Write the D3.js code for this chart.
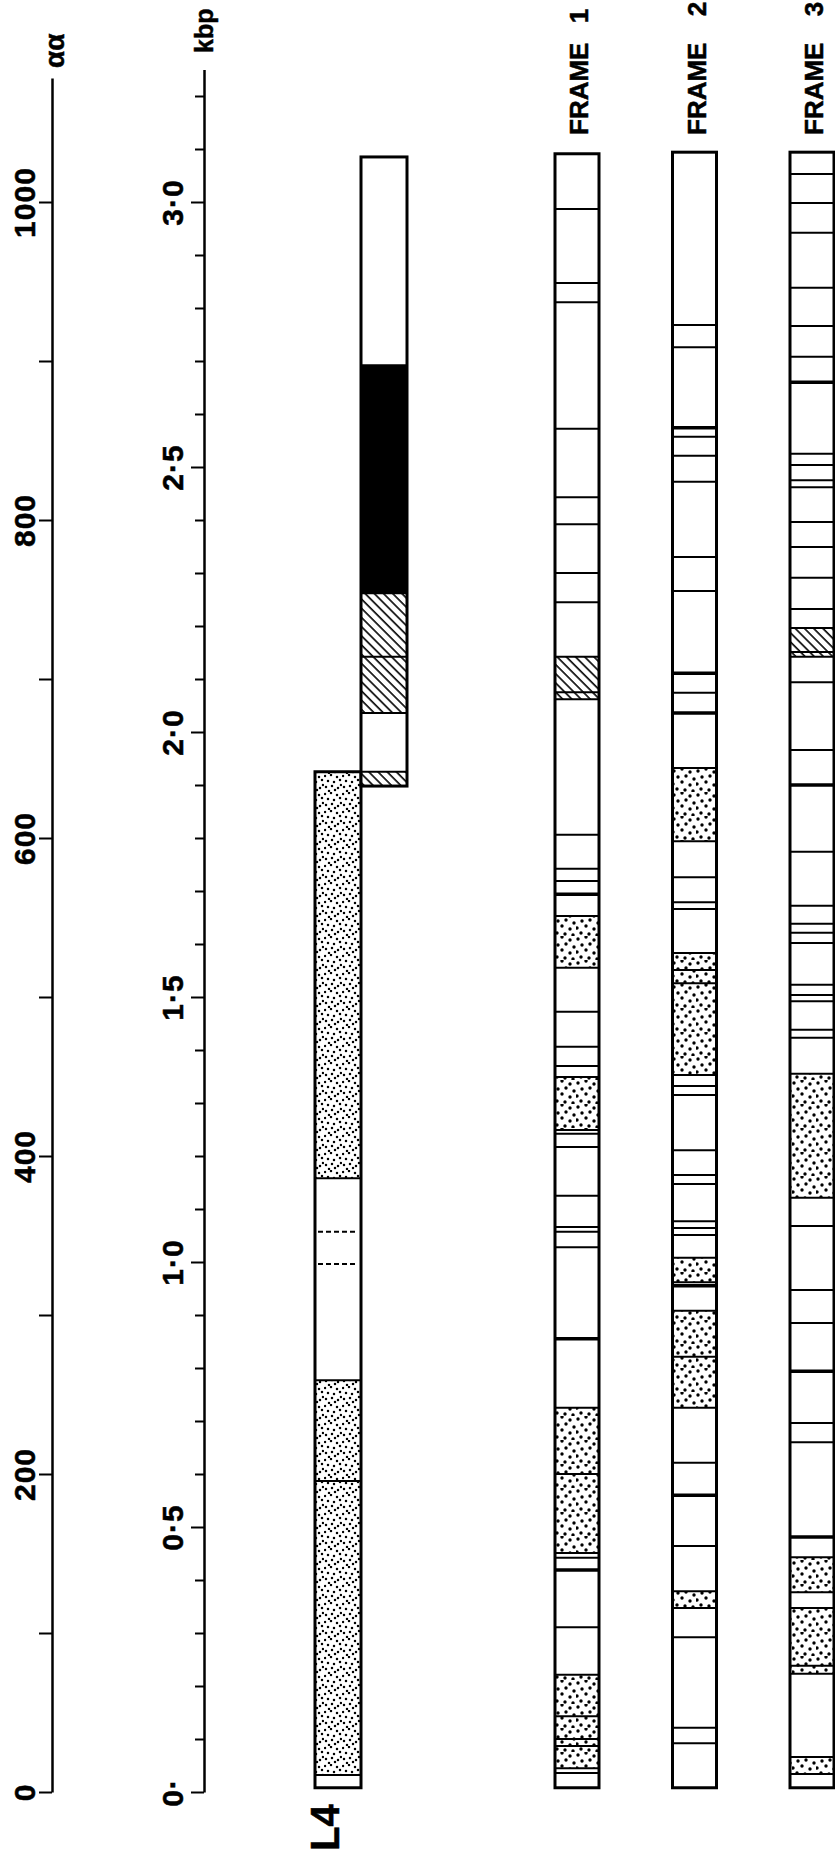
<!DOCTYPE html>
<html>
<head>
<meta charset="utf-8">
<script src="https://cdn.jsdelivr.net/npm/d3@7/dist/d3.min.js"></script>
<style>
  body { margin: 0; background: #fff; }
  text { font-family: "Liberation Sans", Arial, sans-serif; font-weight: bold; fill: #000; stroke: #000; stroke-width: 0.5px; }
</style>
</head>
<body>
<svg width="835" height="1855"></svg>
<script>
// ---- data (positions along the sequence, kbp) ----
const kbpLabelValues = [0, 0.5, 1.0, 1.5, 2.0, 2.5, 3.0];
const kbpLabels = ["0·", "0·5", "1·0", "1·5", "2·0", "2·5", "3·0"];
const aaLabelValues = [0, 200, 400, 600, 800, 1000];
const aaLabels = ["0", "200", "400", "600", "800", "1000"];
const kbpMax = 3.25;
const aaMax = 1078;

// L4 clone: lower block and upper block (staircase)
const l4Lower = [0.008, 1.925];
const l4Upper = [1.898, 3.085];
const l4Lines = [0.032, 0.587, 0.777, 1.158, 1.925, 2.036, 2.142, 2.262, 2.692];
const l4Dashed = [0.996, 1.057];
const l4Dots = [[0.032, 0.587], [0.587, 0.777], [1.158, 1.925]];
const l4Hatch = [[1.898, 1.925], [2.036, 2.142], [2.142, 2.262]];
const l4Solid = [[2.262, 2.692]];

// reading frames
const frameNames = ["1", "2", "3"];
const frameStart = 0.008;
const frameEnds = [3.091, 3.094, 3.094];

const f1Lines = [2.987, 2.847, 2.811, 2.572, 2.443, 2.392, 2.300, 2.245, 2.142, 2.075, 2.062, 1.806, 1.742, 1.719,
  1.653, 1.555, 1.472, 1.406, 1.370, 1.349, 1.249, 1.242, 1.217, 1.125, 1.066, 1.057, 1.028, 0.725, 0.600, 0.451,
  0.442, 0.311, 0.221, 0.143, 0.100, 0.087, 0.045, 0.036];
const f1Heavy = [1.694, 0.855, 0.419];
const f1Dots = [[1.555, 1.653], [1.249, 1.349], [0.600, 0.725], [0.451, 0.600], [0.143, 0.221], [0.100, 0.143],
  [0.087, 0.100], [0.045, 0.087]];
const f1Hatch = [[2.075, 2.142], [2.062, 2.075]];

const f2Lines = [2.768, 2.726, 2.557, 2.521, 2.472, 2.330, 2.266, 2.074, 1.932, 1.794, 1.726, 1.679, 1.666, 1.583,
  1.551, 1.526, 1.353, 1.332, 1.315, 1.211, 1.164, 1.147, 1.077, 1.064, 1.051, 1.008, 0.962, 0.908, 0.821, 0.725,
  0.621, 0.464, 0.379, 0.347, 0.292, 0.121, 0.092];
const f2Heavy = [2.574, 2.111, 2.036, 0.955, 0.560];
const f2Dots = [[1.794, 1.932], [1.551, 1.583], [1.526, 1.551], [1.353, 1.526], [0.962, 1.008], [0.821, 0.908],
  [0.725, 0.821], [0.347, 0.379]];
const f2Hatch = [];

const f3Lines = [3.053, 2.998, 2.942, 2.838, 2.766, 2.708, 2.525, 2.504, 2.475, 2.462, 2.396, 2.349, 2.291, 2.232,
  2.196, 2.151, 2.142, 2.094, 1.966, 1.774, 1.672, 1.638, 1.621, 1.602, 1.523, 1.504, 1.492, 1.438, 1.423, 1.355,
  1.121, 1.068, 0.947, 0.885, 0.696, 0.660, 0.443, 0.377, 0.347, 0.238, 0.223, 0.066, 0.034];
const f3Heavy = [2.660, 1.900, 0.794, 0.481];
const f3Dots = [[1.121, 1.355], [0.377, 0.443], [0.238, 0.347], [0.223, 0.238], [0.034, 0.066]];
const f3Hatch = [[2.151, 2.196], [2.142, 2.151]];

const frameLines = [f1Lines, f2Lines, f3Lines];
const frameHeavy = [f1Heavy, f2Heavy, f3Heavy];
const frameDots = [f1Dots, f2Dots, f3Dots];
const frameHatch = [f1Hatch, f2Hatch, f3Hatch];

// ---- drawing ----
const svg = d3.select("svg");
const defs = svg.append("defs");

const y = d3.scaleLinear().domain([0, kbpMax]).range([1792, 1792 - 530 * kbpMax]);

// textures
function addDots(id, size, pts, r) {
  const p = defs.append("pattern")
    .attr("id", id)
    .attr("patternUnits", "userSpaceOnUse")
    .attr("width", size)
    .attr("height", size);
  p.append("rect").attr("width", size).attr("height", size).attr("fill", "#fff");
  pts.forEach(([cx, cy]) => p.append("circle").attr("cx", cx).attr("cy", cy).attr("r", r).attr("fill", "#000"));
}
addDots("dotsFine", 18, [[1, 2], [7, 1], [13, 3], [4, 7], [10, 8], [16, 6], [2, 13], [8, 12], [14, 14], [5, 17], [11, 16], [17, 11]], 1.25);
addDots("dots", 24, [[2, 3], [10, 1], [18, 4], [6, 9], [14, 8], [22, 11], [1, 16], [10, 14], [18, 17], [5, 21], [13, 22], [21, 23]], 1.7);

const hatch = defs.append("pattern")
  .attr("id", "hatch")
  .attr("patternUnits", "userSpaceOnUse")
  .attr("width", 6.5)
  .attr("height", 6.5)
  .attr("patternTransform", "rotate(-45)");
hatch.append("rect").attr("width", 6.5).attr("height", 6.5).attr("fill", "#fff");
hatch.append("line").attr("x1", 1).attr("y1", 0).attr("x2", 1).attr("y2", 6.5)
  .attr("stroke", "#000").attr("stroke-width", 1.6);

function drawColumn(x0, w, range, opts) {
  const g = svg.append("g");
  g.append("rect")
    .attr("x", x0).attr("y", y(range[1]))
    .attr("width", w).attr("height", y(range[0]) - y(range[1]))
    .attr("fill", "#fff");

  const fills = [
    [opts.dots || [], `url(#${opts.dotId || "dots"})`],
    [opts.hatch || [], "url(#hatch)"],
    [opts.solid || [], "#000"]
  ];
  fills.forEach(([segs, fill]) => {
    g.selectAll(null)
      .data(segs)
      .enter()
      .append("rect")
      .attr("x", x0)
      .attr("y", d => y(d[1]))
      .attr("width", w)
      .attr("height", d => y(d[0]) - y(d[1]))
      .attr("fill", fill);
  });

  g.selectAll(null)
    .data(opts.lines || [])
    .enter()
    .append("line")
    .attr("x1", x0).attr("x2", x0 + w)
    .attr("y1", d => y(d)).attr("y2", d => y(d))
    .attr("stroke", "#000").attr("stroke-width", 2);

  g.selectAll(null)
    .data(opts.heavy || [])
    .enter()
    .append("line")
    .attr("x1", x0).attr("x2", x0 + w)
    .attr("y1", d => y(d)).attr("y2", d => y(d))
    .attr("stroke", "#000").attr("stroke-width", 3.5);

  g.selectAll(null)
    .data(opts.dashed || [])
    .enter()
    .append("line")
    .attr("x1", x0 + 3).attr("x2", x0 + w - 3)
    .attr("y1", d => y(d)).attr("y2", d => y(d))
    .attr("stroke", "#000").attr("stroke-width", 2)
    .attr("stroke-dasharray", "5,3");

  g.append("rect")
    .attr("x", x0).attr("y", y(range[1]))
    .attr("width", w).attr("height", y(range[0]) - y(range[1]))
    .attr("fill", "none")
    .attr("stroke", "#000")
    .attr("stroke-width", 3);
}

// L4 staircase
const inRange = (segs, r) => segs.filter(d => d[0] >= r[0] - 1e-6 && d[1] <= r[1] + 1e-6);
const inRangeV = (vals, r) => vals.filter(v => v > r[0] && v < r[1]);
drawColumn(315, 46, l4Lower, {
  dots: inRange(l4Dots, l4Lower), dotId: "dotsFine",
  lines: inRangeV(l4Lines, l4Lower), dashed: l4Dashed
});
drawColumn(361, 46, l4Upper, {
  hatch: inRange(l4Hatch, l4Upper), solid: inRange(l4Solid, l4Upper),
  lines: inRangeV(l4Lines, l4Upper)
});

svg.append("text")
  .attr("transform", "translate(339,1851) rotate(-90)")
  .style("font-size", "40px")
  .text("L4");

// frames
const frameX = d3.scalePoint().domain(frameNames).range([555, 790]);
const frameW = 44;
frameNames.forEach((name, i) => {
  drawColumn(frameX(name), frameW, [frameStart, frameEnds[i]], {
    dots: frameDots[i], hatch: frameHatch[i],
    lines: frameLines[i], heavy: frameHeavy[i]
  });
  const t = svg.append("text")
    .attr("transform", `translate(${frameX(name) + frameW / 2 + 11},135) rotate(-90)`)
    .style("font-size", "26px")
    .text("FRAME");
  t.append("tspan").attr("dx", i === 0 ? 12 : 19).text(" " + name);
});

// kbp axis
const kbpTicks = d3.range(0, 33).map(i => i / 10);
const labelFor = (vals, labels) => d => {
  const i = vals.findIndex(v => Math.abs(v - d) < 1e-6);
  return i >= 0 ? labels[i] : "";
};
const kbpAxis = d3.axisLeft(y)
  .tickValues(kbpTicks)
  .tickSize(9)
  .tickSizeOuter(0)
  .tickFormat(labelFor(kbpLabelValues, kbpLabels));

const kbpG = svg.append("g")
  .attr("transform", "translate(204,0)")
  .call(kbpAxis);

// aa axis (1 aa = 3 bp)
const aa = d3.scaleLinear().domain([0, aaMax]).range([y(0), y(aaMax * 0.003)]);
const aaAxis = d3.axisLeft(aa)
  .tickValues(d3.range(0, 11).map(i => i * 100))
  .tickSize(13)
  .tickSizeOuter(0)
  .tickFormat(labelFor(aaLabelValues, aaLabels));

const aaG = svg.append("g")
  .attr("transform", "translate(52,0)")
  .call(aaAxis);

[[kbpG, 21], [aaG, 17]].forEach(([g, off]) => {
  g.select(".domain").attr("stroke-width", 2.5);
  g.selectAll(".tick line").attr("stroke-width", 2);
  g.selectAll(".tick text")
    .attr("transform", "rotate(-90)")
    .attr("x", 0)
    .attr("y", -off)
    .attr("dy", 0)
    .attr("text-anchor", "middle")
    .style("font-family", "'Liberation Sans', Arial, sans-serif")
    .style("font-weight", "bold")
    .style("font-size", "30px")
    .style("letter-spacing", "1px");
});
kbpG.selectAll(".tick")
  .filter(d => kbpLabelValues.some(v => Math.abs(v - d) < 1e-6))
  .select("line")
  .attr("x2", -13);

// unit labels
svg.append("text")
  .attr("transform", "translate(213,53) rotate(-90)")
  .style("font-size", "25px")
  .text("kbp");

svg.append("text")
  .attr("transform", "translate(64,68) rotate(-90)")
  .style("font-size", "28px")
  .text("αα");
</script>
</body>
</html>
